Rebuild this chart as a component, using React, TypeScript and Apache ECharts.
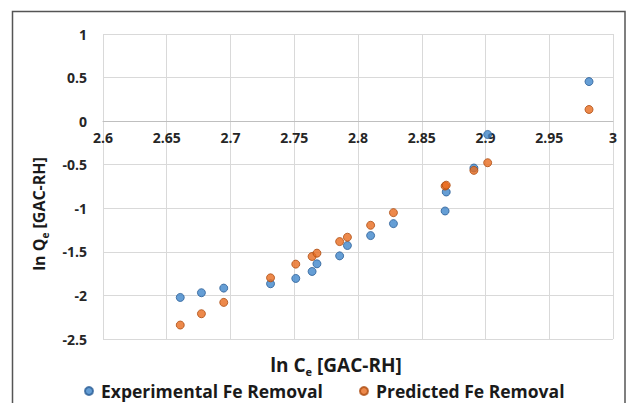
import React, { useEffect, useRef } from "react";
import * as echarts from "echarts";

const lnCe = [2.6606, 2.6772, 2.6947, 2.7314, 2.7512, 2.764, 2.7678, 2.7856, 2.7917, 2.8099, 2.8278, 2.8683, 2.8692, 2.8909, 2.9017, 2.9812];
const experimental = [-2.023, -1.969, -1.916, -1.866, -1.805, -1.725, -1.637, -1.546, -1.427, -1.313, -1.176, -1.031, -0.813, -0.538, -0.153, 0.454];
const predicted = [-2.34, -2.21, -2.08, -1.798, -1.641, -1.553, -1.515, -1.382, -1.332, -1.195, -1.05, -0.745, -0.735, -0.565, -0.477, 0.134];
const seriesNames = ["Experimental Fe Removal", "Predicted Fe Removal"];
const xTitle = ["ln C", "e", " [GAC-RH]"];
const yTitle = ["ln Q", "e", " [GAC-RH]"];

const FONT = "'Open Sans', 'Noto Sans', sans-serif";
const INK = "#1a1a1a";

const X_MIN = 2.6, X_MAX = 3, X_STEP = 0.05;
const Y_MIN = -2.5, Y_MAX = 1, Y_STEP = 0.5;

const GRID_LEFT = 103, GRID_RIGHT = 24, GRID_TOP = 34, GRID_BOTTOM = 64;
const CHART_H = 403;

function titleRich(size: number, sub: number) {
  return {
    m: { fontSize: size, fontWeight: "bold", fontFamily: FONT, fill: INK, color: INK, verticalAlign: "bottom", padding: [0, 0, 3, 0] },
    s: { fontSize: sub, fontWeight: "bold", fontFamily: FONT, fill: INK, color: INK, verticalAlign: "bottom" },
  };
}

export default function App() {
  const ref = useRef<HTMLDivElement>(null);
  useEffect(() => {
    if (!ref.current) return;
    const chart = echarts.init(ref.current, null, { renderer: "svg" });
    const toPairs = (ys: number[]) => lnCe.map((x, i) => [x, ys[i]]);
    const plotH = CHART_H - GRID_TOP - GRID_BOTTOM;
    const zeroH = (plotH * (Y_MAX - 0)) / (Y_MAX - Y_MIN);
    const richText = (t: string[]) => `{m|${t[0]}}{s|${t[1]}}{m|${t[2]}}`;
    chart.setOption({
      animation: false,
      backgroundColor: "#ffffff",
      textStyle: { fontFamily: FONT },
      grid: [
        { left: GRID_LEFT, right: GRID_RIGHT, top: GRID_TOP, bottom: GRID_BOTTOM },
        { left: GRID_LEFT, right: GRID_RIGHT, top: GRID_TOP, height: zeroH },
      ],
      graphic: [
        {
          type: "rect",
          shape: { x: 12.5, y: 11.5, width: 612.5, height: 400 },
          style: { fill: "none", stroke: "#555555", lineWidth: 1.5 },
          silent: true,
        },
        {
          type: "text",
          x: 336,
          y: 366,
          style: { text: richText(xTitle), align: "center", verticalAlign: "middle", rich: titleRich(19, 11) },
        },
        {
          type: "text",
          x: 40,
          y: 214,
          rotation: Math.PI / 2,
          style: { text: richText(yTitle), align: "center", verticalAlign: "middle", rich: titleRich(16, 10) },
        },
      ],
      legend: {
        data: seriesNames,
        top: 382,
        left: 84,
        padding: 0,
        icon: "circle",
        itemWidth: 14,
        itemHeight: 8,
        itemGap: 36,
        textStyle: { fontSize: 17.5, lineHeight: 18, fontWeight: "bold", color: INK, fontFamily: FONT },
      },
      xAxis: [
        {
          gridIndex: 0,
          type: "value",
          min: X_MIN,
          max: X_MAX,
          interval: X_STEP,
          axisLine: { show: false },
          axisTick: { show: false },
          axisLabel: { show: false },
          splitLine: { show: true, lineStyle: { color: "#d9d9d9", width: 1 } },
        },
        {
          gridIndex: 1,
          type: "value",
          min: X_MIN,
          max: X_MAX,
          interval: X_STEP,
          position: "bottom",
          axisLine: { show: true, onZero: false, lineStyle: { color: "#bfbfbf", width: 1 } },
          axisTick: { show: false },
          axisLabel: { margin: 9, fontSize: 14, fontWeight: "bold", color: "#262626", fontFamily: FONT },
          splitLine: { show: false },
        },
      ],
      yAxis: [
        {
          gridIndex: 0,
          type: "value",
          min: Y_MIN,
          max: Y_MAX,
          interval: Y_STEP,
          axisLine: { show: false },
          axisTick: { show: false },
          axisLabel: { margin: 16, fontSize: 14, fontWeight: "bold", color: "#262626", fontFamily: FONT },
          splitLine: { show: true, lineStyle: { color: "#d9d9d9", width: 1 } },
        },
        {
          gridIndex: 1,
          type: "value",
          min: 0,
          max: Y_MAX,
          show: false,
        },
      ],
      series: [
        {
          name: seriesNames[0],
          type: "scatter",
          xAxisIndex: 0,
          yAxisIndex: 0,
          data: toPairs(experimental),
          symbolSize: 8,
          itemStyle: { color: "#3f86cb", borderColor: "#2a5e96", borderWidth: 1 },
        },
        {
          name: seriesNames[1],
          type: "scatter",
          xAxisIndex: 0,
          yAxisIndex: 0,
          data: toPairs(predicted),
          symbolSize: 8,
          itemStyle: { color: "#e96c1e", borderColor: "#ad4c12", borderWidth: 1 },
        },
      ],
    });
    return () => chart.dispose();
  }, []);
  return <div ref={ref} style={{ position: "fixed", left: 0, top: 0, width: 637, height: 403 }} />;
}
